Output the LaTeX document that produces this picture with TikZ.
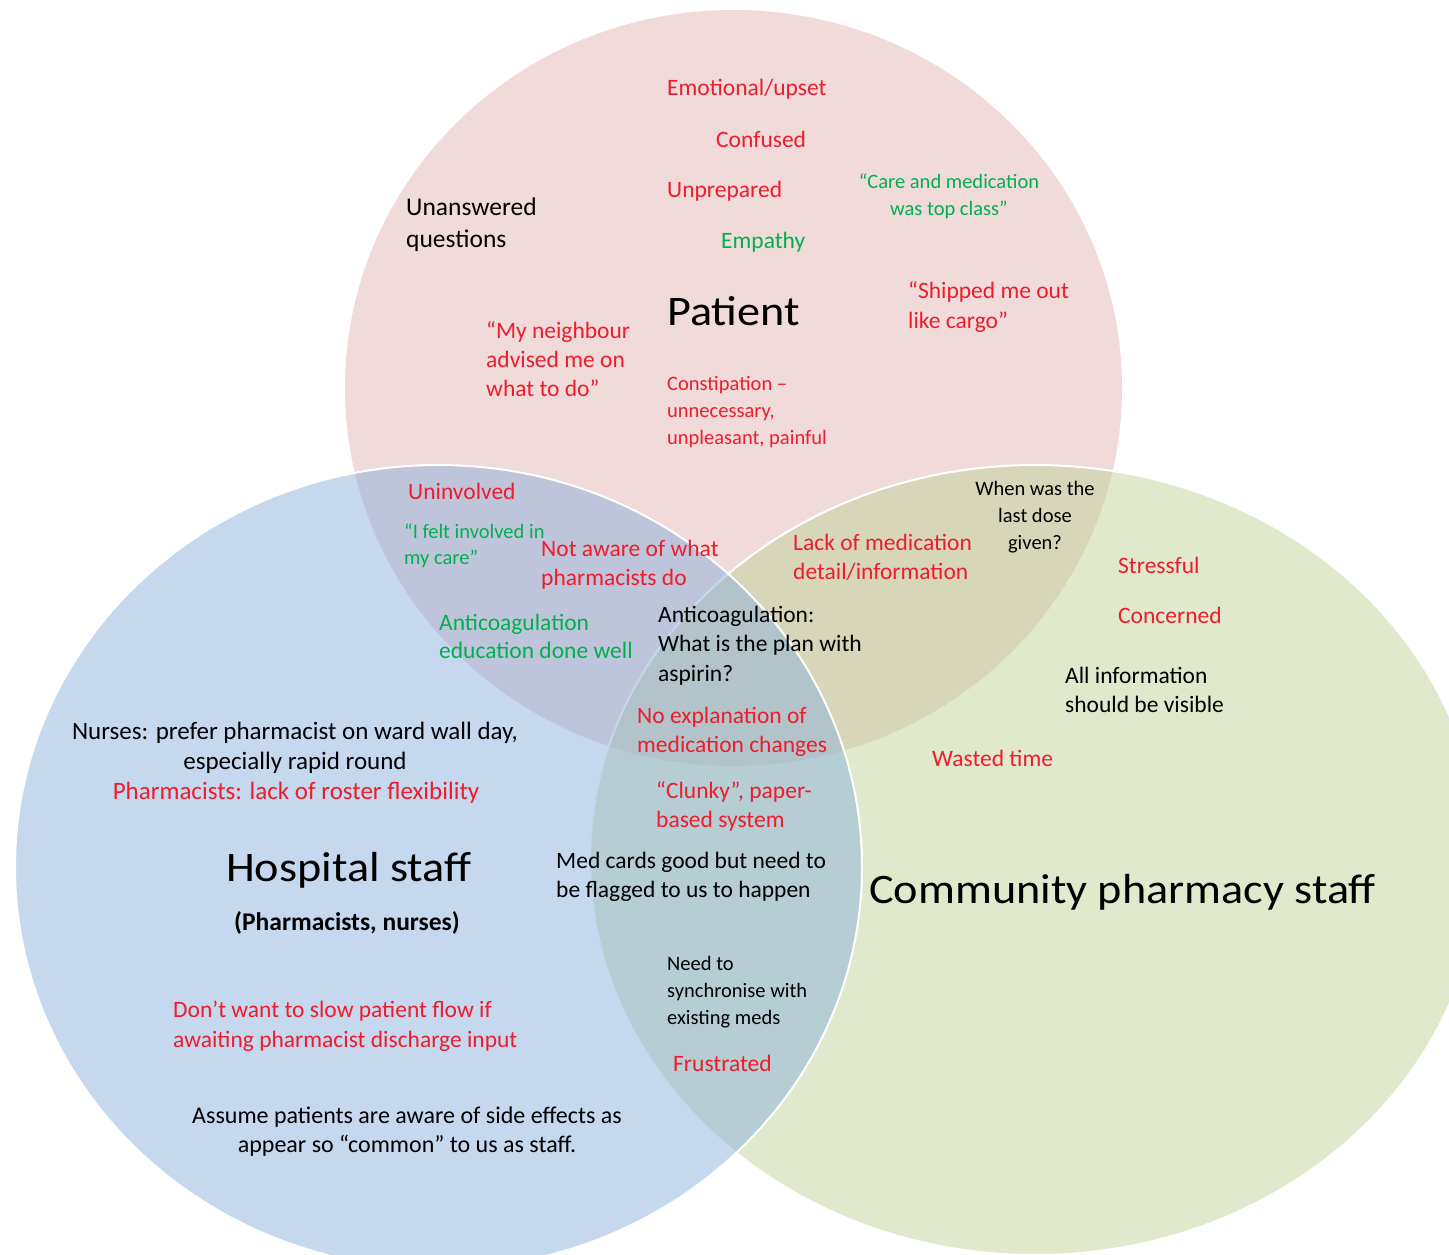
\documentclass[tikz,border=0pt]{standalone}
\usepackage{fontspec}
\setmainfont{Carlito}
\newfontfamily\titlefont[FakeStretch=1.1]{Carlito}
\usepackage{tikz}
\usepackage{xcolor}
\usetikzlibrary{positioning}

\definecolor{patientfill}{RGB}{225,181,181}
\definecolor{hospitalfill}{RGB}{141,177,221}
\definecolor{communityfill}{RGB}{193,211,153}
\definecolor{badred}{RGB}{238,28,44}
\definecolor{goodgreen}{RGB}{0,176,80}

\begin{document}
\begin{tikzpicture}[x=1pt, y=-1pt,
    set/.style={fill opacity=0.5},
    note/.style={inner sep=0pt, anchor=west, align=left, yshift=-4pt,
      font=\fontsize{23.5}{28.5}\selectfont,
      execute at begin node=\strut, execute at end node=\strut},
    small note/.style={note, font=\fontsize{20.5}{27}\selectfont},
    mid/.style={anchor=center, align=center},
    bad/.style={text=badred},
    good/.style={text=goodgreen},
    title/.style={inner sep=0pt, anchor=base west,
      font=\titlefont\fontsize{42}{50}\selectfont}]

  \useasboundingbox (0,0) rectangle (1449,1255);
  \clip (0,0) rectangle (1449,1255);

  % the three sets
  \fill[set, patientfill] (733.5,388) ellipse [x radius=388.5pt, y radius=378pt];
  \filldraw[set, fill=communityfill, draw=white, line width=2pt]
    (1035,860) ellipse [x radius=445pt, y radius=395pt];
  \filldraw[set, fill=hospitalfill, draw=white, line width=2pt]
    (438.5,867) ellipse [x radius=423.5pt, y radius=402pt];

  % patient
  \node[title] (patient) at (667,325) {Patient};
  \node[note, bad] (emotional) at (667,86) {Emotional/upset};
  \node[note, bad] (confused) at (716,138) {Confused};
  \node[note, bad] (unprepared) at (667,188) {Unprepared};
  \node[note, good] (empathy) at (721,239) {Empathy};
  \node[small note, good, mid] (topclass) at (949,195)
    {“Care and medication\\was top class”};
  \node[note, font=\fontsize{25.5}{32}\selectfont] (unanswered) at (406,223)
    {Unanswered\\questions};
  \node[note, bad, font=\fontsize{23.5}{30}\selectfont] (cargo) at (908,306)
    {“Shipped me out\\like cargo”};
  \node[note, bad, font=\fontsize{23.5}{29}\selectfont] (neighbour) at (486,359)
    {“My neighbour\\advised me on\\what to do”};
  \node[small note, bad] (constipation) at (667,410)
    {Constipation –\\unnecessary,\\unpleasant, painful};

  % patient and hospital
  \node[note, bad] (uninvolved) at (408,490) {Uninvolved};
  \node[small note, good, font=\fontsize{20.5}{26}\selectfont] (involved) at (404,544)
    {“I felt involved in\\my care”};
  \node[note, bad] (notaware) at (541,563) {Not aware of what\\pharmacists do};
  \node[note, good] (education) at (439,636.5)
    {Anticoagulation\\education done well};

  % all three
  \node[note, font=\fontsize{23.5}{29.5}\selectfont] (aspirin) at (658,644)
    {Anticoagulation:\\What is the plan with\\aspirin?};
  \node[note, bad] (noexplain) at (637,730)
    {No explanation of\\medication changes};

  % patient and community
  \node[note, bad] (lackinfo) at (793,557) {Lack of medication\\detail/information};
  \node[small note, mid] (lastdose) at (1035,515.5) {When was the\\last dose\\given?};

  % community
  \node[title] (community) at (869,903) {Community pharmacy staff};
  \node[note, bad] (stressful) at (1118,564) {Stressful};
  \node[note, bad] (concerned) at (1118,614) {Concerned};
  \node[note] (visible) at (1065,690) {All information\\should be visible};
  \node[note, bad] (wasted) at (932,757) {Wasted time};

  % hospital and community
  \node[note, bad] (clunky) at (656,805) {“Clunky”, paper-\\based system};
  \node[note] (medcards) at (556,875)
    {Med cards good but need to\\be flagged to us to happen};
  \node[small note] (synchronise) at (667,990)
    {Need to\\synchronise with\\existing meds};
  \node[note, bad] (frustrated) at (673,1062) {Frustrated};

  % hospital
  \node[title] (hospital) at (226,881) {Hospital staff};
  \node[note, mid, font=\bfseries\fontsize{25.5}{30}\selectfont] (roles) at (347,920)
    {(Pharmacists, nurses)};
  \node[note, mid, font=\fontsize{25}{30}\selectfont] (nurses) at (295,746)
    {Nurses: prefer pharmacist on ward wall day,\\especially rapid round};
  \node[note, bad, mid, font=\fontsize{25}{30}\selectfont] (roster) at (296,789)
    {Pharmacists: lack of roster flexibility};
  \node[note, bad, font=\fontsize{23.5}{30}\selectfont] (flow) at (173,1025)
    {Don’t want to slow patient flow if\\awaiting pharmacist discharge input};
  \node[note, mid, font=\fontsize{24}{28.5}\selectfont] (sideeffects) at (407,1130)
    {Assume patients are aware of side effects as\\appear so “common” to us as staff.};
\end{tikzpicture}
\end{document}
